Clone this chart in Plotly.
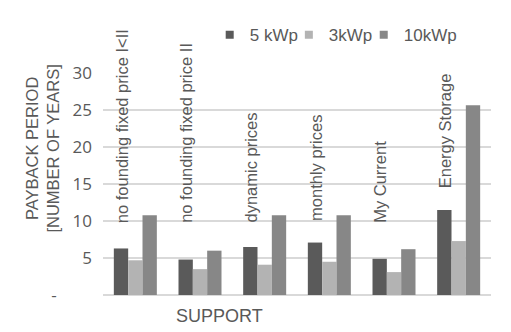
import plotly.graph_objects as go

categories = ["no founding fixed price I<II", "no founding fixed price II", "dynamic prices",
              "monthly prices", "My Current", "Energy Storage"]
series_names = ["5 kWp", "3kWp", "10kWp"]
v5 = [6.3, 4.8, 6.5, 7.1, 4.9, 11.5]
v3 = [4.7, 3.5, 4.1, 4.5, 3.1, 7.3]
v10 = [10.8, 6.0, 10.8, 10.8, 6.2, 25.7]
tick_vals = [0, 5, 10, 15, 20, 25, 30]
tick_text = ["-" + "\u00a0" * 8, "5", "10", "15", "20", "25", "30"]

colors = ["#5a5a5a", "#b3b3b3", "#878787"]
txt = "#595959"
legend_ids = ["legend", "legend2", "legend3"]
legend_x = [0.275, 0.479, 0.672]

fig = go.Figure()
for name, vals, c, lid in zip(series_names, [v5, v3, v10], colors, legend_ids):
    fig.add_trace(go.Bar(x=categories, y=vals, name=name, marker_color=c,
                         marker_line_width=0, showlegend=False))
    fig.add_trace(go.Scatter(x=[None], y=[None], mode="markers", name=name, legend=lid,
                             marker=dict(symbol="square", size=8, color=c)))

for cat, v in zip(categories, v5):
    fig.add_annotation(x=cat, y=max(v + 2.7, 9.5), text=cat, textangle=-90,
                       xref="x", yref="y", xanchor="center", yanchor="bottom",
                       xshift=-14, showarrow=False,
                       font=dict(family="Liberation Sans, Arial", size=16.5, color=txt))

fig.add_annotation(x=-0.157, y=0.66, xref="paper", yref="paper", textangle=-90,
                   xanchor="center", yanchor="middle",
                   text="PAYBACK PERIOD<br>[NUMBER OF YEARS]", showarrow=False,
                   font=dict(family="Liberation Sans, Arial", size=16.5, color=txt))
fig.add_annotation(x=0.299, y=-0.095, xref="paper", yref="paper", xanchor="center",
                   yanchor="middle", text="SUPPORT", showarrow=False,
                   font=dict(family="Liberation Sans, Arial", size=18, color=txt))

leg_common = dict(orientation="h", y=1.17, xanchor="left", yanchor="middle",
                  font=dict(family="Liberation Sans, Arial", size=17, color=txt),
                  itemwidth=30, bgcolor="rgba(0,0,0,0)")
fig.update_layout(
    width=511, height=332,
    margin=dict(l=103, r=20, t=73, b=37, autoexpand=False),
    paper_bgcolor="white", plot_bgcolor="white",
    barmode="group", bargap=0.335, bargroupgap=0,
    legend=dict(x=legend_x[0], **leg_common),
    legend2=dict(x=legend_x[1], **leg_common),
    legend3=dict(x=legend_x[2], **leg_common),
    xaxis=dict(showticklabels=False, showline=False, showgrid=False, zeroline=False),
    yaxis=dict(range=[0, 30.05], tickvals=tick_vals, ticktext=tick_text,
               showgrid=True, gridcolor="#d9d9d9", gridwidth=1.5,
               zeroline=True, zerolinecolor="#d9d9d9", zerolinewidth=2,
               showline=False, ticklabelstandoff=10,
               tickfont=dict(family="Open Sans", size=17, color=txt)),
)

fig.write_html("out.html")
